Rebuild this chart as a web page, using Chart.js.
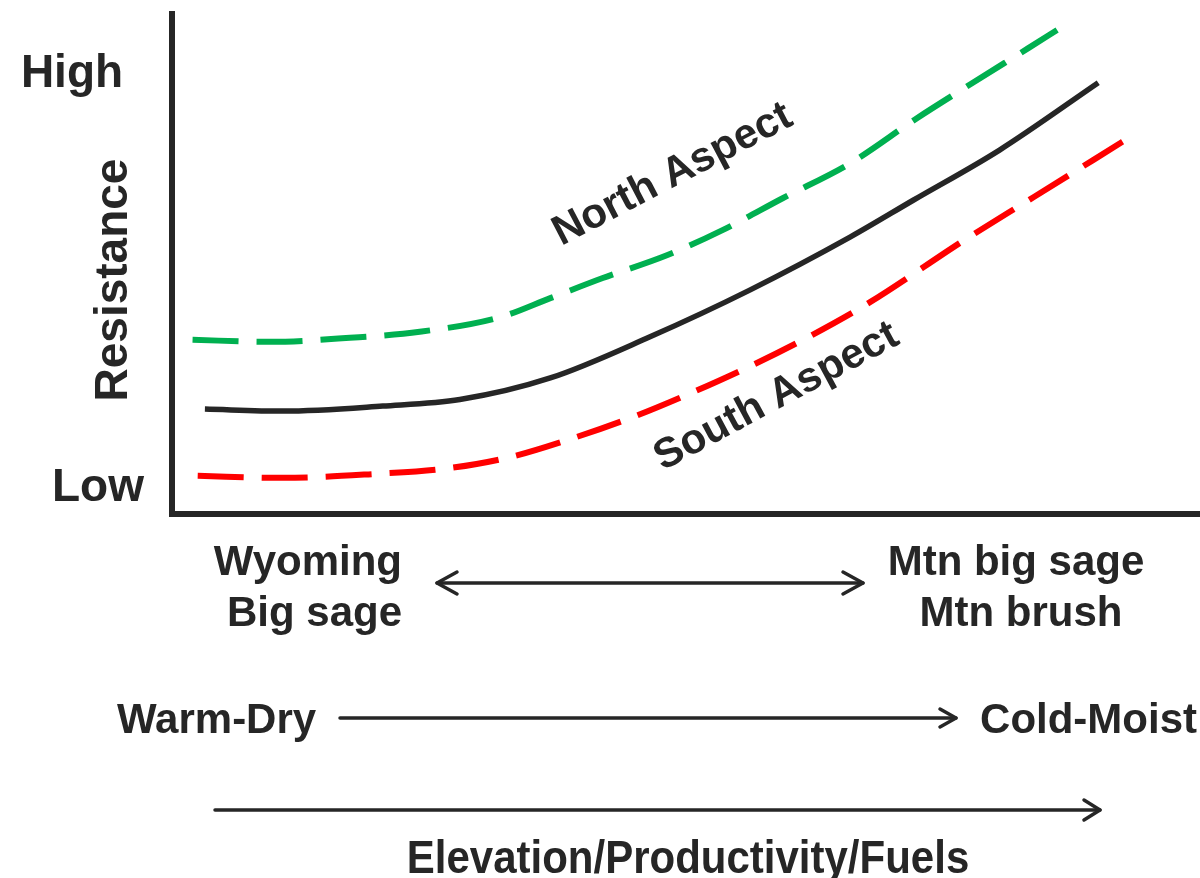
<!DOCTYPE html>
<html>
<head>
<meta charset="utf-8">
<title>Resistance gradient</title>
<script src="https://cdn.jsdelivr.net/npm/chart.js@4.4.1/dist/chart.umd.min.js"></script>
<style>
  html, body { margin: 0; padding: 0; background: #fff; }
  canvas { display: block; }
</style>
</head>
<body>
<canvas id="resChart" width="1200" height="878"></canvas>
<script>
// Curves (x = position along gradient, y = resistance, both 0-100)
const midX   = [3.2, 10.8, 20.5, 28.0, 36.8, 46.5, 56.2, 66.0, 72.1, 80.5, 90.1];
const midY   = [20.9, 20.5, 21.5, 22.8, 27.1, 35.3, 44.6, 55.2, 62.5, 72.5, 85.9];

const northX = [2.0, 9.5, 17.3, 24.1, 31.9, 36.8, 41.9, 48.2, 53.6, 59.4, 66.0, 72.5, 77.9, 83.3, 86.1];
const northY = [34.7, 34.3, 35.1, 36.3, 39.2, 43.0, 47.0, 51.6, 56.6, 62.9, 69.9, 78.9, 85.9, 92.8, 96.4];

const southX = [2.5, 10.8, 19.9, 26.4, 32.6, 38.4, 44.8, 50.7, 56.5, 62.3, 67.9, 77.1, 83.8, 89.6, 93.8];
const southY = [7.6, 7.2, 8.0, 9.0, 11.2, 14.7, 19.3, 24.3, 29.7, 35.7, 42.2, 54.6, 63.1, 70.5, 75.9];

const yTickLabels = ['Low', 'High'];
const curveLabels = ['North Aspect', 'South Aspect'];

const ink = '#262626';
const font = (px) => `bold ${px}px "Liberation Sans", Arial, sans-serif`;

function toPoints(xs, ys) {
    return xs.map((x, i) => ({ x: x, y: ys[i] }));
}

function arrowHead(ctx, x, y, dir, len, half) {
    ctx.beginPath();
    ctx.moveTo(x - dir * len, y - half);
    ctx.lineTo(x, y);
    ctx.lineTo(x - dir * len, y + half);
    ctx.stroke();
}

function text(ctx, str, x, y, size, align) {
    ctx.font = font(size);
    ctx.textAlign = align || 'center';
    ctx.textBaseline = 'alphabetic';
    ctx.fillText(str, x, y);
}

function rotatedText(ctx, str, x, y, size, deg) {
    ctx.save();
    ctx.translate(x, y);
    ctx.rotate(deg * Math.PI / 180);
    text(ctx, str, 0, 0, size, 'center');
    ctx.restore();
}

// axes, labels and arrows drawn around the plot area
const decorPlugin = {
    id: 'decor',
    beforeDatasetsDraw(chart) {
        const ctx = chart.ctx;
        const a = chart.chartArea;
        ctx.save();
        ctx.strokeStyle = ink;
        ctx.lineWidth = 6;
        ctx.lineCap = 'butt';
        ctx.beginPath();
        ctx.moveTo(a.left, a.top - 1);
        ctx.lineTo(a.left, a.bottom + 3);
        ctx.moveTo(a.left - 3, a.bottom);
        ctx.lineTo(a.right, a.bottom);
        ctx.stroke();
        ctx.restore();
    },
    afterDraw(chart) {
        const ctx = chart.ctx;
        const y = chart.scales.y;
        ctx.save();
        ctx.fillStyle = ink;
        ctx.strokeStyle = ink;

        // y axis end labels and title
        text(ctx, yTickLabels[1], 72, 87, 46);
        text(ctx, yTickLabels[0], 98, 501, 46);
        ctx.save();
        ctx.translate(127, (y.top + y.bottom) / 2 + 17);
        ctx.rotate(-Math.PI / 2);
        text(ctx, 'Resistance', 0, 0, 46);
        ctx.restore();

        // curve labels
        rotatedText(ctx, curveLabels[0], 678, 185, 42, -27.6);
        rotatedText(ctx, curveLabels[1], 782, 407, 42, -28.2);

        // vegetation types
        text(ctx, 'Wyoming', 402, 575, 42, 'right');
        text(ctx, 'Big sage', 402, 626, 42, 'right');
        text(ctx, 'Mtn big sage', 1016, 575, 42);
        text(ctx, 'Mtn brush', 1021, 626, 42);

        ctx.lineWidth = 3.5;
        ctx.lineCap = 'round';
        ctx.lineJoin = 'round';
        ctx.beginPath();
        ctx.moveTo(437, 583);
        ctx.lineTo(863, 583);
        ctx.stroke();
        arrowHead(ctx, 437, 583, -1, 20, 11);
        arrowHead(ctx, 863, 583, 1, 20, 11);

        // climate gradient
        text(ctx, 'Warm-Dry', 117, 733, 42, 'left');
        text(ctx, 'Cold-Moist', 1197, 733, 42, 'right');
        ctx.beginPath();
        ctx.moveTo(340, 718);
        ctx.lineTo(956, 718);
        ctx.stroke();
        arrowHead(ctx, 956, 718, 1, 16, 9);

        // elevation gradient
        ctx.beginPath();
        ctx.moveTo(215, 810);
        ctx.lineTo(1100, 810);
        ctx.stroke();
        arrowHead(ctx, 1100, 810, 1, 16, 10);
        ctx.save();
        ctx.translate(688, 873);
        ctx.scale(1, 1.1);
        text(ctx, 'Elevation/Productivity/Fuels', 0, 0, 42);
        ctx.restore();

        ctx.restore();
    }
};

const lineStyle = {
    pointRadius: 0,
    fill: false,
    cubicInterpolationMode: 'monotone',
    borderCapStyle: 'butt'
};

new Chart(document.getElementById('resChart').getContext('2d'), {
    type: 'line',
    data: {
        datasets: [
            { ...lineStyle, label: curveLabels[0], data: toPoints(northX, northY), borderColor: '#00b050', borderWidth: 6, borderDash: [46, 18] },
            { ...lineStyle, label: curveLabels[1], data: toPoints(southX, southY), borderColor: '#ff0000', borderWidth: 6, borderDash: [46, 18] },
            { ...lineStyle, label: 'Average', data: toPoints(midX, midY), borderColor: ink, borderWidth: 5.5 }
        ]
    },
    options: {
        responsive: false,
        animation: false,
        layout: { padding: { left: 172, top: 12, right: 0, bottom: 364 } },
        plugins: { legend: { display: false }, tooltip: { enabled: false } },
        scales: {
            x: { type: 'linear', min: 0, max: 100, display: false },
            y: { type: 'linear', min: 0, max: 100, display: false }
        }
    },
    plugins: [decorPlugin]
});
</script>
</body>
</html>
